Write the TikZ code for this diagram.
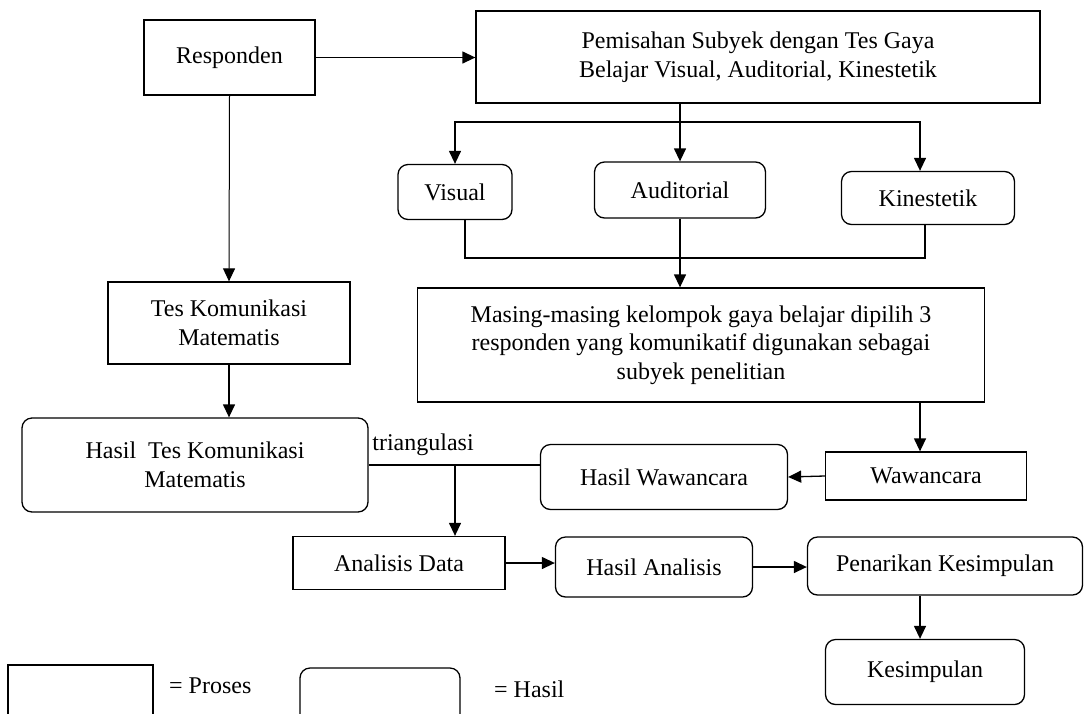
\documentclass[tikz,border=0pt]{standalone}
\usepackage{fontspec}
\setmainfont{Liberation Serif}
\usetikzlibrary{positioning, arrows.meta}
\tikzset{
	proses/.style = {draw, line width=1.3pt, align=center, inner sep=2pt},
	hasil/.style = {proses, rounded corners=10pt},
	panah/.style = {line width=1.3pt, -{Triangle[length=13pt, width=12pt]}},
	garis/.style = {line width=1.3pt}
}

\begin{document}
\begin{tikzpicture}[x=1pt, y=-1pt, font=\fontsize{24}{28.5}\selectfont]
	\useasboundingbox (0,0) rectangle (1089,713);
	\clip (0,0) rectangle (1089,713);
	\node[proses, minimum width=171pt, minimum height=75pt] (responden) at (229.5,57.5) {Responden};
	\node[proses, minimum width=564pt, minimum height=92pt] (pemisahan) at (758,57) {Pemisahan Subyek dengan Tes Gaya\\Belajar Visual, Auditorial, Kinestetik};
	\node[hasil, minimum width=114pt, minimum height=55pt] (visual) at (455,192) {Visual};
	\node[hasil, minimum width=171pt, minimum height=56pt] (auditorial) at (680,190) {Auditorial};
	\node[hasil, minimum width=173pt, minimum height=53pt] (kinestetik) at (928,198) {Kinestetik};
	\node[proses, minimum width=567pt, minimum height=114pt] (masing) at (701,345) {Masing-masing kelompok gaya belajar dipilih 3\\responden yang komunikatif digunakan sebagai\\subyek penelitian};
	\node[proses, minimum width=242pt, minimum height=82pt] (tes) at (229,323) {Tes Komunikasi\\Matematis};
	\node[hasil, minimum width=346pt, minimum height=94pt] (hasiltes) at (195,465) {Hasil~ Tes Komunikasi\\Matematis};
	\node[hasil, minimum width=247pt, minimum height=65pt] (hasilwaw) at (664,477) {Hasil Wawancara};
	\node[proses, minimum width=201pt, minimum height=48pt] (wawancara) at (926,476) {Wawancara};
	\node[proses, minimum width=212pt, minimum height=53pt] (analisis) at (399,563) {Analisis Data};
	\node[hasil, minimum width=197pt, minimum height=60pt] (hasilana) at (654,567) {Hasil Analisis};
	\node[hasil, minimum width=275pt, minimum height=58pt] (penarikan) at (945,566) {Penarikan Kesimpulan};
	\node[hasil, minimum width=199pt, minimum height=65pt] (kesimpulan) at (925,672) {Kesimpulan};
	\node (triangulasi) at (423,445) {triangulasi};

	\coordinate (cabang) at (680,122);
	\coordinate (gabung) at (681,258);
	\coordinate (tri) at (455,466);

	\draw[panah] (responden.east) -- (responden.east -| pemisahan.west);
	\draw[panah, line width=1pt] (responden.south) -- (tes.north);
	\draw[panah] (auditorial.north |- pemisahan.south) -- (auditorial.north);
	\draw[garis, {Triangle[length=13pt, width=12pt]}-{Triangle[length=13pt, width=12pt]}] (visual.north) |- (cabang) -| ([xshift=-8pt]kinestetik.north);
	\draw[garis] ([xshift=10pt]visual.south) |- (gabung) -| ([xshift=-3pt]kinestetik.south);
	\draw[panah] (auditorial.south) -- (auditorial.south |- masing.north);
	\draw[panah] ([xshift=-6pt]wawancara.north |- masing.south) -- ([xshift=-6pt]wawancara.north);
	\draw[panah] (wawancara.west) -- (hasilwaw.east);
	\draw[panah] (tes.south) -- (tes.south |- hasiltes.north);
	\draw[garis] (hasiltes.east) -- (hasiltes.east -| hasilwaw.west);
	\draw[panah] (tri) -- (tri |- analisis.north);
	\draw[panah] (analisis.east) -- (analisis.east -| hasilana.west);
	\draw[panah] (hasilana.east) -- (hasilana.east -| penarikan.west);
	\draw[panah] ([xshift=-5pt]kesimpulan.north |- penarikan.south) -- ([xshift=-5pt]kesimpulan.north);

	\node[proses, minimum width=145pt, minimum height=64pt] (legproses) at (80.5,697) {};
	\node[right=12pt of legproses.north east, anchor=north west, yshift=-10pt] (ketproses) {= Proses};
	\node[hasil, minimum width=160pt, minimum height=64pt] (leghasil) at (380,700) {};
	\node[right=30pt of leghasil.north east, anchor=north west, yshift=-10pt] (kethasil) {= Hasil};
\end{tikzpicture}
\end{document}
